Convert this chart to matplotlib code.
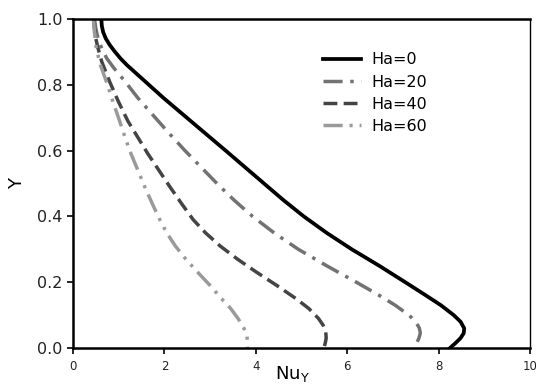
import numpy as np
import matplotlib.pyplot as plt

# values (NuY along x, Y along y)
y_ha0 = [1.0, 0.98, 0.96, 0.94, 0.92, 0.90, 0.88, 0.86, 0.83, 0.80, 0.76, 0.72, 0.68, 0.64, 0.60,
         0.55, 0.50, 0.45, 0.40, 0.35, 0.30, 0.25, 0.20, 0.16, 0.13, 0.10, 0.08, 0.06, 0.045,
         0.03, 0.015, 0.0]
nu_ha0 = [0.62, 0.63, 0.66, 0.72, 0.81, 0.92, 1.04, 1.18, 1.42, 1.66, 1.98, 2.32, 2.66, 3.0, 3.34,
          3.76, 4.18, 4.6, 5.05, 5.55, 6.1, 6.7, 7.27, 7.72, 8.05, 8.33, 8.48, 8.56, 8.55,
          8.48, 8.37, 8.25]

y_ha20 = [1.0, 0.97, 0.94, 0.91, 0.88, 0.85, 0.81, 0.76, 0.70, 0.65, 0.60, 0.55, 0.50, 0.45,
          0.40, 0.35, 0.30, 0.25, 0.20, 0.16, 0.13, 0.10, 0.08, 0.06, 0.045, 0.03, 0.015, 0.0]
nu_ha20 = [0.47, 0.5, 0.55, 0.63, 0.74, 0.9, 1.14, 1.42, 1.8, 2.12, 2.45, 2.8, 3.15, 3.52,
           3.93, 4.4, 4.93, 5.55, 6.2, 6.7, 7.05, 7.35, 7.5, 7.58, 7.6, 7.57, 7.52, 7.46]

y_ha40 = [1.0, 0.97, 0.94, 0.91, 0.87, 0.81, 0.75, 0.69, 0.64, 0.59, 0.54, 0.49, 0.44, 0.39,
          0.35, 0.31, 0.27, 0.23, 0.19, 0.15, 0.12, 0.09, 0.07, 0.05, 0.03, 0.015, 0.0]
nu_ha40 = [0.45, 0.47, 0.5, 0.55, 0.63, 0.8, 0.99, 1.2, 1.42, 1.64, 1.88, 2.12, 2.37, 2.63,
           2.9, 3.22, 3.6, 4.02, 4.46, 4.88, 5.16, 5.37, 5.47, 5.53, 5.54, 5.52, 5.49]

y_ha60 = [1.0, 0.96, 0.91, 0.86, 0.81, 0.75, 0.69, 0.64, 0.59, 0.54, 0.49, 0.44, 0.39, 0.35,
          0.31, 0.27, 0.23, 0.19, 0.15, 0.12, 0.09, 0.06, 0.04, 0.02, 0.0]
nu_ha60 = [0.45, 0.47, 0.51, 0.6, 0.73, 0.87, 1.02, 1.14, 1.27, 1.42, 1.57, 1.73, 1.9, 2.05,
           2.24, 2.47, 2.73, 3.0, 3.25, 3.45, 3.61, 3.74, 3.8, 3.82, 3.82]

labels = ["Ha=0", "Ha=20", "Ha=40", "Ha=60"]

fig = plt.figure(figsize=(5.36, 3.86), dpi=100)
ax = fig.add_axes([73 / 536, 1 - 348 / 386, 457 / 536, 329 / 386])

ax.plot(nu_ha0, y_ha0, color="black", lw=2.7, ls="-", label=labels[0])
ax.plot(nu_ha20, y_ha20, color="#727272", lw=2.5, ls=(0, (5.5, 2.2, 1.0, 2.2)), label=labels[1])
ax.plot(nu_ha40, y_ha40, color="#444444", lw=2.5, ls=(0, (4, 1.8)), label=labels[2])
ax.plot(nu_ha60, y_ha60, color="#9a9a9a", lw=2.5, ls=(0, (5.5, 2, 0.9, 2, 0.9, 2)), label=labels[3])

ax.set_xlim(0, 10)
ax.set_ylim(0, 1)
ax.set_xticks([0, 2, 4, 6, 8, 10])
ax.set_yticks([0.0, 0.2, 0.4, 0.6, 0.8, 1.0])
ax.set_yticklabels(["0.0", "0.2", "0.4", "0.6", "0.8", "1.0"], fontsize=11.5, color="#222222")
ax.set_xticklabels(["0", "2", "4", "6", "8", "10"], fontsize=8.5, color="#222222")
ax.tick_params(direction="out", length=4, width=1.2)
ax.tick_params(axis="x", pad=5)
for s in ["left", "bottom", "top"]:
    ax.spines[s].set_linewidth(1.8)
ax.spines["right"].set_linewidth(1.0)

# x label sits low, close to the bottom edge
fig.text(292 / 536, 1 - 379 / 386, r"Nu$_{\mathregular{Y}}$", fontsize=13, ha="center", va="baseline")
ax.set_ylabel("Y", fontsize=13, labelpad=8)

ax.legend(loc="upper left", bbox_to_anchor=(0.532, 0.918), frameon=False, fontsize=11.5,
          handlelength=2.4, handletextpad=0.65, labelspacing=0.45, borderaxespad=0)

fig.savefig("out.png", dpi=100)
